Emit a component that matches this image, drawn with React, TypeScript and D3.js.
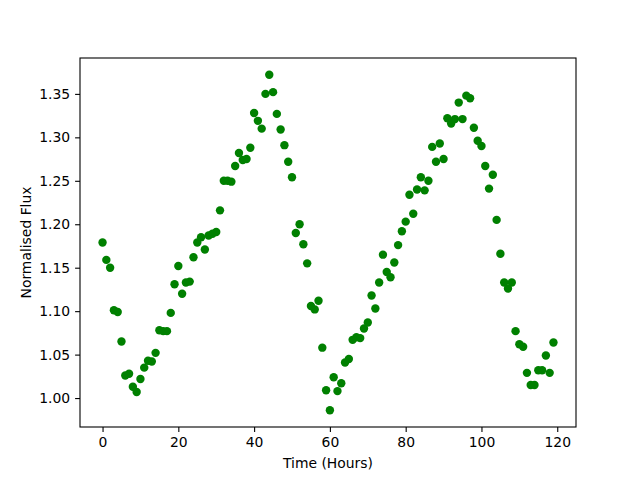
import React from "react";
import * as d3 from "d3";

// hourly samples, 0..119
const hours: number[] = d3.range(0, 120);
const flux: number[] = [
  1.179, 1.159, 1.15, 1.101, 1.099, 1.065, 1.026, 1.028, 1.013, 1.007,
  1.022, 1.035, 1.043, 1.042, 1.052, 1.078, 1.077, 1.077, 1.098, 1.131,
  1.152, 1.12, 1.133, 1.134, 1.162, 1.179, 1.185, 1.171, 1.187, 1.189,
  1.191, 1.216, 1.25, 1.25, 1.249, 1.267, 1.282, 1.274, 1.275, 1.288,
  1.328, 1.319, 1.31, 1.35, 1.372, 1.352, 1.327, 1.309, 1.291, 1.272,
  1.254, 1.19, 1.2, 1.177, 1.155, 1.106, 1.102, 1.112, 1.058, 1.009,
  0.986, 1.024, 1.008, 1.017, 1.041, 1.045, 1.067, 1.07, 1.069, 1.08,
  1.087, 1.118, 1.103, 1.133, 1.165, 1.145, 1.139, 1.156, 1.176, 1.192,
  1.203, 1.234, 1.212, 1.24, 1.254, 1.239, 1.25, 1.289, 1.272, 1.293,
  1.275, 1.322, 1.316, 1.321, 1.34, 1.321, 1.348, 1.345, 1.311, 1.296,
  1.29, 1.267, 1.241, 1.257, 1.205, 1.166, 1.133, 1.126, 1.133, 1.077,
  1.062, 1.059, 1.029, 1.015, 1.015, 1.032, 1.032, 1.049, 1.029, 1.064,
];
const xTicks: number[] = [0, 20, 40, 60, 80, 100, 120];
const yTicks: number[] = [1.0, 1.05, 1.1, 1.15, 1.2, 1.25, 1.3, 1.35];

const width = 640;
const height = 480;
const margin = { left: 80, right: 64, top: 58, bottom: 53 };

const App = () => {
  const svgRef = React.useRef<SVGSVGElement>(null);

  React.useEffect(() => {
    const innerW = width - margin.left - margin.right;
    const innerH = height - margin.top - margin.bottom;

    // matplotlib-style 5% padding around the data
    const [x0, x1] = d3.extent(hours) as [number, number];
    const [y0, y1] = d3.extent(flux) as [number, number];
    const px = (x1 - x0) * 0.05;
    const py = (y1 - y0) * 0.05;
    const xScale = d3.scaleLinear().domain([x0 - px, x1 + px]).range([0, innerW]);
    const yScale = d3.scaleLinear().domain([y0 - py, y1 + py]).range([innerH, 0]);

    const svgEl = d3.select(svgRef.current);
    svgEl.selectAll("*").remove();
    const svg = svgEl
      .append("g")
      .attr("transform", `translate(${margin.left},${margin.top})`);

    const font = "'DejaVu Sans', sans-serif";

    // points
    svg.selectAll("circle")
      .data(hours)
      .enter()
      .append("circle")
      .attr("cx", (d) => xScale(d))
      .attr("cy", (d, i) => yScale(flux[i]))
      .attr("r", 4.2)
      .attr("fill", "#008000");

    // x axis
    const xAxis = d3.axisBottom(xScale)
      .tickValues(xTicks)
      .tickSize(4.9)
      .tickPadding(4.9)
      .tickFormat(d3.format("d"));
    const xg = svg.append("g")
      .attr("transform", `translate(0, ${innerH})`)
      .call(xAxis);
    xg.select(".domain").remove();
    xg.selectAll("line").attr("stroke", "#000").attr("stroke-width", 1.1);
    xg.selectAll("text")
      .attr("font-family", font)
      .attr("font-size", 13.9)
      .attr("fill", "#000");

    // y axis
    const yAxis = d3.axisLeft(yScale)
      .tickValues(yTicks)
      .tickSize(4.9)
      .tickPadding(4.9)
      .tickFormat(d3.format(".2f"));
    const yg = svg.append("g").call(yAxis);
    yg.select(".domain").remove();
    yg.selectAll("line").attr("stroke", "#000").attr("stroke-width", 1.1);
    yg.selectAll("text")
      .attr("font-family", font)
      .attr("font-size", 13.9)
      .attr("fill", "#000");

    // frame
    svg.append("rect")
      .attr("x", 0)
      .attr("y", 0)
      .attr("width", innerW)
      .attr("height", innerH)
      .attr("fill", "none")
      .attr("stroke", "#000")
      .attr("stroke-width", 1.1);

    // labels
    svg.append("text")
      .attr("x", innerW / 2)
      .attr("y", innerH + 41)
      .attr("text-anchor", "middle")
      .attr("font-family", font)
      .attr("font-size", 13.9)
      .text("Time (Hours)");
    svg.append("text")
      .attr("transform", `translate(${-49}, ${innerH / 2}) rotate(-90)`)
      .attr("text-anchor", "middle")
      .attr("font-family", font)
      .attr("font-size", 13.9)
      .text("Normalised Flux");
  }, []);

  return (
    <svg
      ref={svgRef}
      width={width}
      height={height}
      style={{ position: "absolute", left: 0, top: 0, background: "#fff" }}
    />
  );
};

export default App;
